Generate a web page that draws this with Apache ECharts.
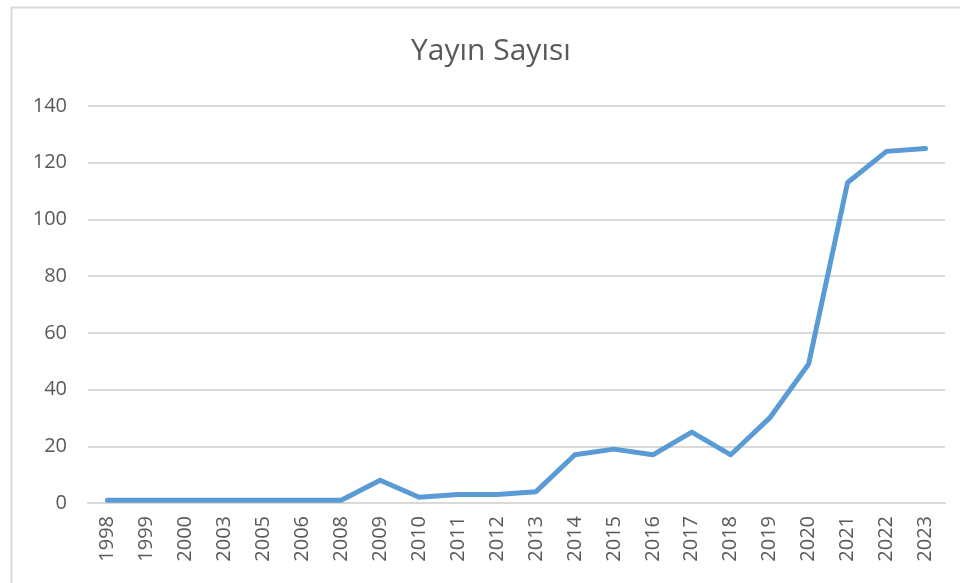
<!DOCTYPE html>
<html>
<head>
<meta charset="utf-8">
<script src="https://cdn.jsdelivr.net/npm/echarts@6/dist/echarts.min.js"></script>
<style>
  html, body { margin: 0; padding: 0; background: #fff; }
  #chart { width: 960px; height: 583px; }
</style>
</head>
<body>
<div id="chart"></div>
<script>
  // veriler
  var years = ['1998', '1999', '2000', '2003', '2005', '2006', '2008', '2009', '2010', '2011', '2012',
    '2013', '2014', '2015', '2016', '2017', '2018', '2019', '2020', '2021', '2022', '2023']
  var counts = [1, 1, 1, 1, 1, 1, 1, 8, 2, 3, 3, 4, 17, 19, 17, 25, 17, 30, 49, 113, 124, 125]
  var yTicks = [0, 20, 40, 60, 80, 100, 120, 140]

  var chart = echarts.init(document.getElementById('chart'))
  chart.setOption({
    animation: false,
    title: {
      text: 'Yayın Sayısı',
      left: 406,
      top: 31,
      textStyle: {
        fontFamily: 'Open Sans',
        fontSize: 30,
        fontWeight: 'normal',
        color: '#595959'
      }
    },
    graphic: [
      {
        type: 'rect',
        shape: { x: 11.5, y: 7.5, width: 980, height: 600 },
        style: { fill: 'none', stroke: '#d9d9d9', lineWidth: 2 },
        silent: true
      }
    ],
    grid: {
      left: 88,
      right: 15,
      top: 106,
      bottom: 80
    },
    xAxis: {
      type: 'category',
      data: years,
      boundaryGap: true,
      axisLine: { show: true, lineStyle: { color: '#d9d9d9', width: 2 } },
      axisTick: { show: false },
      axisLabel: {
        rotate: 90,
        interval: 0,
        margin: 13,
        fontFamily: 'Open Sans',
        fontSize: 20,
        color: '#595959'
      }
    },
    yAxis: {
      type: 'value',
      min: yTicks[0],
      max: yTicks[yTicks.length - 1],
      interval: 20,
      axisLine: { show: false },
      axisTick: { show: false },
      splitLine: { lineStyle: { color: '#d9d9d9', width: 2 } },
      axisLabel: {
        margin: 21,
        fontFamily: 'Open Sans',
        fontSize: 20,
        color: '#595959'
      }
    },
    series: [
      {
        name: 'Yayın Sayısı',
        type: 'line',
        data: counts,
        symbol: 'none',
        lineStyle: { color: '#5b9bd5', width: 5, cap: 'round', join: 'round' }
      }
    ]
  })
</script>
</body>
</html>
